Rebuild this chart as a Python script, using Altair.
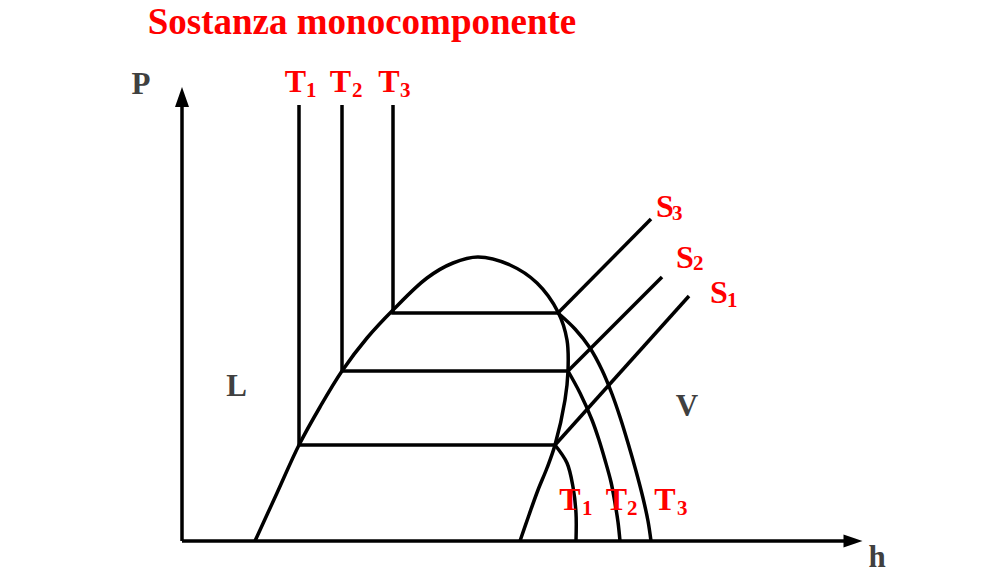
import altair as alt
import pandas as pd

# ---------------- data (h, P in arbitrary diagram units) ----------------
# saturation dome (liquid branch -> critical point -> vapour branch)
DOME_H = [73, 95, 117, 138, 160, 185, 211, 245, 271, 296, 328, 355, 376, 385, 386, 383, 373, 365, 356, 347, 338]
DOME_P = [0, 48, 96, 134, 170, 203, 231, 263, 278, 284, 276, 258, 229, 201, 170, 141, 96, 73, 51, 26, 0]

# isotherms: liquid (vertical) + two-phase (horizontal) parts
T1_LIN_H = [117, 117, 373]
T1_LIN_P = [436, 96, 96]
T2_LIN_H = [160, 160, 386]
T2_LIN_P = [436, 170, 170]
T3_LIN_H = [211, 211, 376]
T3_LIN_P = [436, 228, 228]

# isotherms: superheated vapour parts
T1_VAP_H = [373, 385, 391, 394, 394]
T1_VAP_P = [96, 78, 54, 28, 0]
T2_VAP_H = [386, 398, 410, 417, 423, 429, 433, 436, 438]
T2_VAP_P = [170, 148, 121, 101, 81, 59, 38, 19, 0]
T3_VAP_H = [376, 393, 408, 420, 430, 438, 446, 454, 461, 466, 469]
T3_VAP_P = [228, 212, 193, 171, 147, 124, 98, 70, 43, 20, 0]

# isentropes
S1_H = [373, 507]
S1_P = [96, 245]
S2_H = [386, 480]
S2_P = [170, 264]
S3_H = [376, 469]
S3_P = [228, 322]

# axes
XAXIS_H = [0, 662]
XAXIS_P = [0, 0]
YAXIS_H = [0, 0]
YAXIS_P = [0, 434]
ARROW_DIR = ["up", "right"]
ARROW_H = [0, 670.5]
ARROW_P = [444, 0]

# texts
TITLE = ["Sostanza monocomponente"]
TITLE_H = [180]
TITLE_P = [507]

AXIS_TXT = ["P", "h", "L", "V"]
AXIS_TXT_H = [-41, 695, 54.5, 505]
AXIS_TXT_P = [447, -26, 145, 125]

MAIN_TXT = ["T", "T", "T", "T", "T", "T", "S", "S", "S"]
MAIN_TXT_H = [113.5, 158.5, 207, 388, 434.5, 483, 483, 503, 537]
MAIN_TXT_P = [449, 449, 449, 31, 31, 31, 324, 273, 238]

SUB_TXT = ["1", "2", "3", "1", "2", "3", "3", "2", "1"]
SUB_TXT_H = [124, 170, 218, 400, 445, 495, 490, 511, 545]
SUB_TXT_P = [444, 444, 444, 26, 26, 26, 321, 271, 234]


def series(name, hs, ps):
    return pd.DataFrame({"series": name, "i": range(len(hs)), "h": hs, "P": ps})


straight = pd.concat([
    series("T1", T1_LIN_H, T1_LIN_P),
    series("T2", T2_LIN_H, T2_LIN_P),
    series("T3", T3_LIN_H, T3_LIN_P),
    series("S1", S1_H, S1_P),
    series("S2", S2_H, S2_P),
    series("S3", S3_H, S3_P),
    series("xaxis", XAXIS_H, XAXIS_P),
    series("yaxis", YAXIS_H, YAXIS_P),
], ignore_index=True)

curved = pd.concat([
    series("dome", DOME_H, DOME_P),
    series("T1v", T1_VAP_H, T1_VAP_P),
    series("T2v", T2_VAP_H, T2_VAP_P),
    series("T3v", T3_VAP_H, T3_VAP_P),
], ignore_index=True)

arrows = pd.DataFrame({"dir": ARROW_DIR, "h": ARROW_H, "P": ARROW_P})
title_df = pd.DataFrame({"text": TITLE, "h": TITLE_H, "P": TITLE_P})
axis_df = pd.DataFrame({"text": AXIS_TXT, "h": AXIS_TXT_H, "P": AXIS_TXT_P})
main_df = pd.DataFrame({"text": MAIN_TXT, "h": MAIN_TXT_H, "P": MAIN_TXT_P})
sub_df = pd.DataFrame({"text": SUB_TXT, "h": SUB_TXT_H, "P": SUB_TXT_P})

X = alt.X("h:Q", scale=alt.Scale(domain=[-174, 806], nice=False, zero=False), axis=None)
Y = alt.Y("P:Q", scale=alt.Scale(domain=[-33, 533], nice=False, zero=False), axis=None)

FONT = "Liberation Serif"
RED = "#FF0000"
GRAY = "#404040"

lines_straight = alt.Chart(straight).mark_line(
    color="black", strokeWidth=3.5, interpolate="linear", strokeCap="butt"
).encode(x=X, y=Y, detail="series:N", order="i:Q")

lines_curved = alt.Chart(curved).mark_line(
    color="black", strokeWidth=3.5, interpolate="catmull-rom", strokeCap="butt"
).encode(x=X, y=Y, detail="series:N", order="i:Q")

arrow_marks = alt.Chart(arrows).mark_point(
    filled=True, color="black", opacity=1, size=400, strokeWidth=0
).encode(
    x=X, y=Y,
    shape=alt.Shape("dir:N", scale=alt.Scale(
        domain=["up", "right"],
        range=["M0,-1L0.7,1L-0.7,1Z", "M1,0L-0.9,-0.65L-0.9,0.65Z"]), legend=None),
)

title_mark = alt.Chart(title_df).mark_text(
    font=FONT, fontWeight="bold", fontSize=37, color=RED, align="center", baseline="alphabetic"
).encode(x=X, y=Y, text="text:N")

axis_mark = alt.Chart(axis_df).mark_text(
    font=FONT, fontWeight="bold", fontSize=31, color=GRAY, align="center", baseline="alphabetic"
).encode(x=X, y=Y, text="text:N")

main_mark = alt.Chart(main_df).mark_text(
    font=FONT, fontWeight="bold", fontSize=32, color=RED, align="center", baseline="alphabetic"
).encode(x=X, y=Y, text="text:N")

sub_mark = alt.Chart(sub_df).mark_text(
    font=FONT, fontWeight="bold", fontSize=21, color=RED, align="left", baseline="alphabetic"
).encode(x=X, y=Y, text="text:N")

chart = alt.layer(
    lines_straight, lines_curved, arrow_marks, title_mark, axis_mark, main_mark, sub_mark
).properties(
    width=980, height=566, padding=0,
    autosize=alt.AutoSizeParams(type="none"),
    background="white",
).configure_view(stroke=None)

chart.save("out.html", embed_options={"renderer": "svg", "actions": False})
